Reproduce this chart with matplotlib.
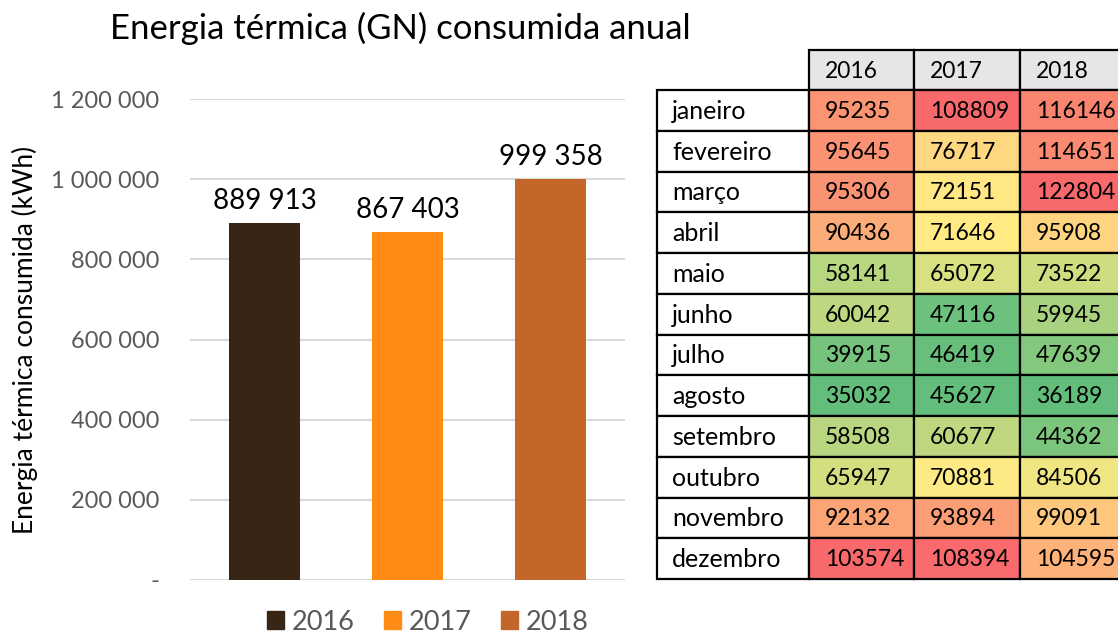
import numpy as np
import matplotlib.pyplot as plt
from matplotlib.patches import Rectangle

plt.rcParams['font.family'] = ['Lato', 'DejaVu Sans']

# ── dados ──
years = ['2016', '2017', '2018']
annual_total = [889913, 867403, 999358]
bar_colors = ['#372516', '#FF8B17', '#C4662A']

months = ['janeiro', 'fevereiro', 'março', 'abril', 'maio', 'junho', 'julho',
          'agosto', 'setembro', 'outubro', 'novembro', 'dezembro']
monthly_2016 = [95235, 95645, 95306, 90436, 58141, 60042, 39915, 35032,
                58508, 65947, 92132, 103574]
monthly_2017 = [108809, 76717, 72151, 71646, 65072, 47116, 46419, 45627,
                60677, 70881, 93894, 108394]
monthly_2018 = [116146, 114651, 122804, 95908, 73522, 59945, 47639, 36189,
                44362, 84506, 99091, 104595]

W, H = 1118, 634
fig = plt.figure(figsize=(W / 100, H / 100), dpi=100)


def fx(px):
    return px / W


def fy(py):
    return 1 - py / H


# ── gráfico de barras ──
ax = fig.add_axes([fx(190), fy(580), fx(625) - fx(190), fy(99) - fy(580)])
x = np.arange(len(years))
bars = ax.bar(x, annual_total, width=0.5, color=bar_colors, zorder=2)
for xi, v in zip(x, annual_total):
    ax.annotate(f"{v:,}".replace(',', ' '), (xi, v), xytext=(0, 7),
                textcoords='offset points', ha='center', va='bottom',
                fontsize=20, color='black')

ax.set_xlim(-0.52, 2.52)
ax.set_ylim(0, 1200000)
ticks = np.arange(0, 1200001, 200000)
ax.set_yticks(ticks)
ax.set_yticklabels(['-' if t == 0 else f"{t:,}".replace(',', ' ') for t in ticks],
                   fontsize=17, color='#595959')
ax.tick_params(axis='y', length=0, pad=22)
ax.set_xticks([])
ax.grid(axis='y', color='#D9D9D9', linewidth=1.5, zorder=0)
for s in ax.spines.values():
    s.set_visible(False)
ax.set_ylabel('Energia térmica consumida (kWh)', fontsize=19, color='black')
ax.yaxis.set_label_coords(-0.35, 0.5)

handles = [Rectangle((0, 0), 1, 1, color=c) for c in bar_colors]
leg = fig.legend(handles, years, loc='center', bbox_to_anchor=(fx(428), fy(622)),
                 ncol=3, frameon=False, fontsize=19.5, handlelength=0.6,
                 handleheight=0.6, handletextpad=0.3, columnspacing=1.1)
for t in leg.get_texts():
    t.set_color('#595959')

fig.text(fx(400), fy(28), 'Energia térmica (GN) consumida anual',
         ha='center', va='center', fontsize=25, color='black')


# ── tabela com escala de cores ──
def color_scale(vals):
    vals = np.asarray(vals, dtype=float)
    lo, mid, hi = vals.min(), np.percentile(vals, 50), vals.max()
    green = np.array([0x63, 0xBE, 0x7B]) / 255
    yellow = np.array([0xFF, 0xEB, 0x84]) / 255
    red = np.array([0xF8, 0x69, 0x6B]) / 255
    out = []
    for v in vals:
        if v <= mid:
            f = (v - lo) / (mid - lo)
            out.append(green + f * (yellow - green))
        else:
            f = (v - mid) / (hi - mid)
            out.append(yellow + f * (red - yellow))
    return out


tab = fig.add_axes([0, 0, 1, 1], zorder=3)
tab.set_xlim(0, W)
tab.set_ylim(H, 0)
tab.axis('off')
tab.patch.set_alpha(0)

col_edges = [657, 809, 914, 1020, 1130]
head_top, row_top = 50, 90
row_h = (579 - 90) / 12
lw = 1.6
fs_num, fs_month = 16.5, 18

for j, yr in enumerate(years):
    x0, x1 = col_edges[j + 1], col_edges[j + 2]
    tab.add_patch(Rectangle((x0, head_top), x1 - x0, row_top - head_top,
                            facecolor='#E7E6E6', edgecolor='black', linewidth=lw))
    tab.text(x0 + 16, (head_top + row_top) / 2 + 1, yr, ha='left', va='center',
             fontsize=fs_num, color='black')

columns = [monthly_2016, monthly_2017, monthly_2018]
cell_colors = [color_scale(c) for c in columns]
for i, m in enumerate(months):
    y0 = row_top + i * row_h
    tab.add_patch(Rectangle((col_edges[0], y0), col_edges[1] - col_edges[0], row_h,
                            facecolor='white', edgecolor='black', linewidth=lw))
    tab.text(col_edges[0] + 15, y0 + row_h / 2 + 1, m, ha='left', va='center',
             fontsize=fs_month, color='black')
    for j in range(3):
        x0, x1 = col_edges[j + 1], col_edges[j + 2]
        tab.add_patch(Rectangle((x0, y0), x1 - x0, row_h,
                                facecolor=cell_colors[j][i], edgecolor='black',
                                linewidth=lw))
        tab.text(x0 + 16, y0 + row_h / 2 + 1, str(columns[j][i]), ha='left',
                 va='center', fontsize=fs_num, color='black')

fig.savefig('out.png', dpi=100)
